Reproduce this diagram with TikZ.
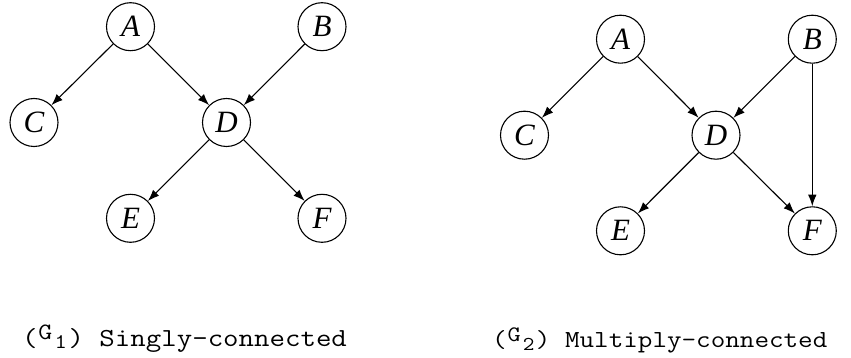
\documentclass[tikz,border=0pt]{standalone}
\usepackage{fontspec}
\setmainfont{Liberation Serif}
\usetikzlibrary{arrows.meta}
\tikzset{
  vnode/.style={draw, circle, minimum size=48pt, inner sep=0pt, line width=1.1pt,
    font=\itshape\fontsize{31}{31}\selectfont},
  edge/.style={line width=1.1pt, -{Latex[length=11.5pt,width=8.5pt]}},
  captext/.style={anchor=base west, inner sep=0pt}
}
\newcommand{\Gcap}[1]{\makebox[\fontcharwd\font`G][c]{\raisebox{6.5pt}{\scalebox{0.9}{G}}}\makebox[\fontcharwd\font`G][c]{\raisebox{-2.5pt}{\scalebox{0.8}{#1}}}}
\begin{document}
\begin{tikzpicture}[x=1pt,y=-1pt]
\useasboundingbox (0,0) rectangle (851,358);
% G1
\node[vnode] (A1) at (130.5,26.7) {A};
\node[vnode] (B1) at (322,26.7) {B};
\node[vnode] (C1) at (34,122.5) {C};
\node[vnode] (D1) at (226.5,122.5) {D};
\node[vnode] (E1) at (130.5,218.3) {E};
\node[vnode] (F1) at (322,218.3) {F};
\draw[edge] (A1) -- (C1);
\draw[edge] (A1) -- (D1);
\draw[edge] (B1) -- (D1);
\draw[edge] (D1) -- (E1);
\draw[edge] (D1) -- (F1);
% G2
\node[vnode] (A2) at (620.5,39.2) {A};
\node[vnode] (B2) at (812.3,39.2) {B};
\node[vnode] (C2) at (524.5,135.2) {C};
\node[vnode] (D2) at (716,135.2) {D};
\node[vnode] (E2) at (620.5,230.8) {E};
\node[vnode] (F2) at (812.3,230.8) {F};
\draw[edge] (A2) -- (C2);
\draw[edge] (A2) -- (D2);
\draw[edge] (B2) -- (D2);
\draw[edge] (D2) -- (E2);
\draw[edge] (D2) -- (F2);
\draw[edge] (B2) -- (F2);
% captions
\node[captext] (cap1) at (22,346) {\scalebox{1.155}[1]{\ttfamily\fontsize{26}{26}\selectfont (\Gcap{1}) Singly-connected}};
\node[captext] (cap2) at (492,347.5) {\scalebox{1.155}[1]{\ttfamily\fontsize{24.5}{24.5}\selectfont (\Gcap{2}) Multiply-connected}};
\end{tikzpicture}
\end{document}
